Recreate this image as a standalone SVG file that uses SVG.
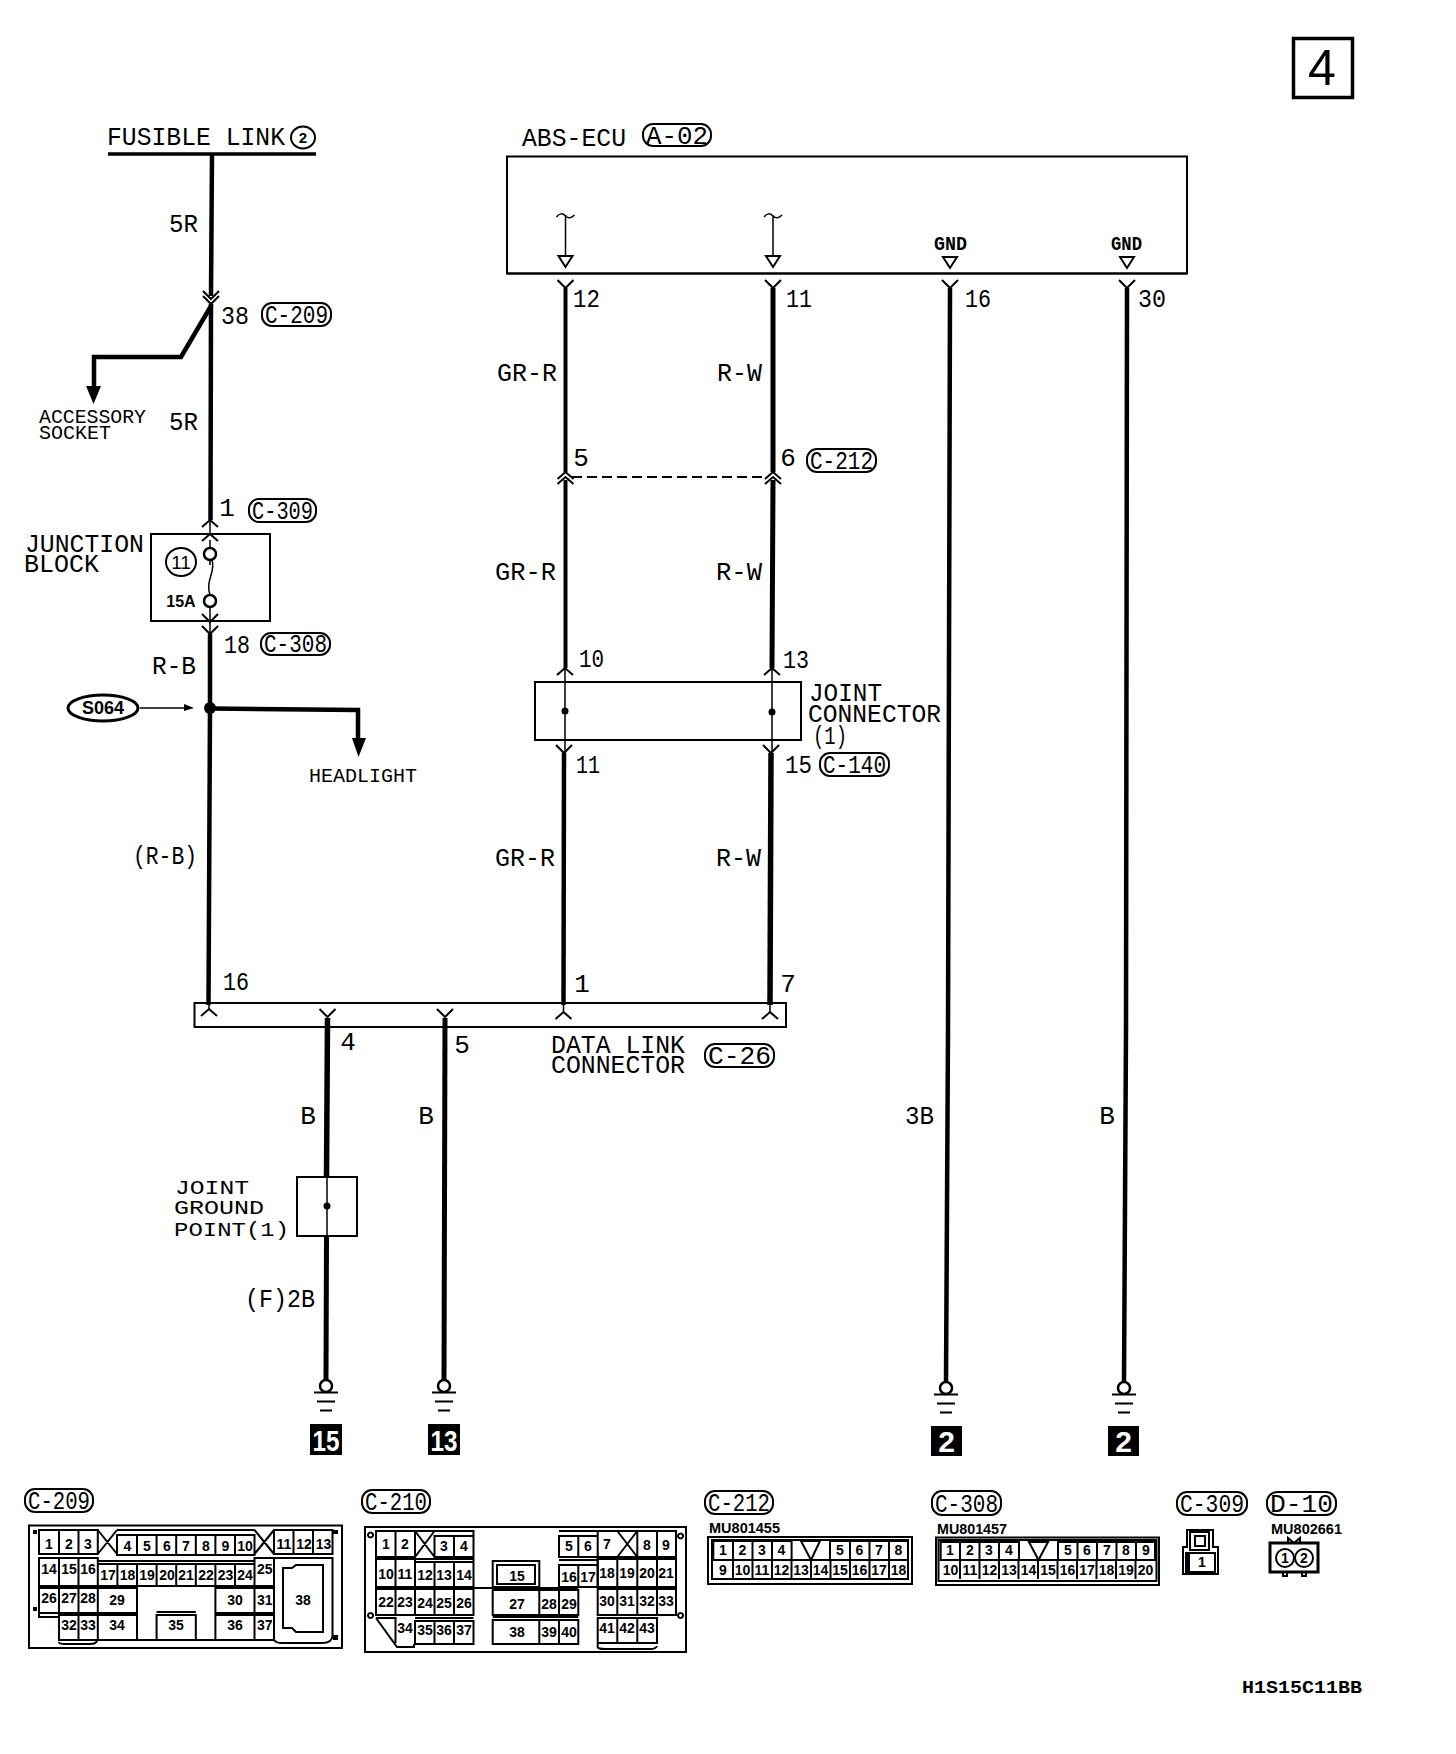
<svg xmlns="http://www.w3.org/2000/svg" xmlns:xlink="http://www.w3.org/1999/xlink" width="1456" height="1754" viewBox="0 0 1456 1754">
<style>
text{font-family:"Liberation Mono","DejaVu Sans Mono",monospace;fill:#000}
.l{font-size:26px}
.m{font-size:26px}
.s{font-size:20px}
.p{font-size:26px;text-anchor:middle}
.c{font-family:"Liberation Sans",Arial,sans-serif;font-weight:bold;font-size:14px;text-anchor:middle}
.mu{font-family:"Liberation Sans",Arial,sans-serif;font-weight:bold;font-size:14px}
.g{font-weight:bold;font-size:17px}
.w{font-family:"Liberation Sans",Arial,sans-serif;font-weight:bold;font-size:30px;fill:#fff;text-anchor:middle}
.box,.pill,.pin,.thin,.chev,.gnd{fill:none;stroke:#000}
.box{stroke-width:2}
.pill{stroke-width:2}
.pin{stroke-width:2}
.thin{stroke-width:1.5}
.chev{stroke-width:2}
.gnd{stroke-width:2}
.wire{fill:none;stroke:#000;stroke-width:4.5}
.wh{fill:#fff;stroke:#000;stroke-width:2.5}
.k{fill:#000;stroke:none}
</style>
<defs>
<path id="up" class="chev" d="M-8 7L0 0L8 7"/>
<path id="dn" class="chev" d="M-8 -8L0 0L8 -8"/>
<path id="tri" class="box" d="M-7 0H7L0 11Z"/>
<path id="tl" class="thin" d="M-9 2C-6 -2 -3 -2 0 1C3 4 6 3 9 0"/>
<g id="earth">
<circle class="wh" cx="0" cy="0" r="6"/>
<path class="gnd" d="M-12 6.500H12M-9 15.500H9M-6 24.500H6"/>
</g>
</defs>

<g id="connectors">
<path class="wire" d="M212 154L211 296M211 304L210.500 520"/>
<path class="wire" d="M211 306L181 357H94V388"/>
<path class="k" d="M86 386H101L93.500 404Z"/>
<path class="wire" d="M210 634V708L208.500 1005"/>
<path class="wire" d="M210 708.500L358 710V740"/>
<path class="k" d="M352 738H366L358.500 757Z"/>
<path class="thin" d="M210 520V534M210 540V548M210 560V565M210 595V634"/>
<path class="thin" d="M212 560C216 572 205 580 210 595"/>
<use xlink:href="#dn" x="211" y="304"/><use xlink:href="#dn" x="211" y="299"/>
<use xlink:href="#up" x="210" y="520"/><use xlink:href="#up" x="210" y="534"/>
<use xlink:href="#dn" x="210" y="622"/><use xlink:href="#dn" x="210" y="634"/>
<path class="thin" d="M140 708H186"/><path class="k" d="M184 704L194 708L184 711Z"/>

<path class="wire" d="M565.500 288V472M565.500 480V668" style="stroke-width:4"/>
<path class="wire" d="M773 288V472M773 480L772 668" style="stroke-width:5"/>
<path class="wire" d="M950 288L948 1030L946 1382" style="stroke-width:4.500"/>
<path class="wire" d="M1127 288L1126 1030L1124 1382" style="stroke-width:4.500"/>
<path class="thin" d="M565 668V753M772 668V753"/>
<path class="wire" d="M564 753L563.500 1005" style="stroke-width:4.500"/>
<path class="wire" d="M771 753L770 1005" style="stroke-width:5.500"/>
<path class="thin" d="M563.500 1004V1012M770 1004V1012M209 1004V1009"/>
<path class="box" d="M572 477H768" stroke-dasharray="10 5"/>
<use xlink:href="#dn" x="565.500" y="288"/><use xlink:href="#dn" x="773" y="288"/><use xlink:href="#dn" x="950" y="288"/><use xlink:href="#dn" x="1127" y="288"/>
<use xlink:href="#up" x="565.500" y="472"/><use xlink:href="#up" x="565.500" y="477"/><use xlink:href="#up" x="773" y="472"/><use xlink:href="#up" x="773" y="477"/>
<use xlink:href="#up" x="565" y="668"/><use xlink:href="#up" x="772" y="668"/>
<use xlink:href="#dn" x="564" y="753"/><use xlink:href="#dn" x="771" y="753"/>
<use xlink:href="#up" x="563.500" y="1012"/><use xlink:href="#up" x="770" y="1012"/><use xlink:href="#up" x="209" y="1009"/>
<use xlink:href="#dn" x="327.500" y="1017"/><use xlink:href="#dn" x="445" y="1017"/>
<path class="wire" d="M327.500 1018L326.500 1177" style="stroke-width:5.500"/>
<path class="thin" d="M327 1177V1236"/>
<path class="wire" d="M326.500 1236L326 1381" style="stroke-width:5"/>
<path class="wire" d="M445 1018L444 1381" style="stroke-width:5"/>
</g>

<g id="page-number"><rect x="1293.500" y="38.500" width="59" height="59" fill="none" stroke="#000" stroke-width="3.500"/><text x="1322" y="85" font-size="50" text-anchor="middle" style="font-family:'Liberation Sans',sans-serif">4</text></g>

<g id="fusible-link">
<text class="l" x="107" y="145" textLength="178" lengthAdjust="spacingAndGlyphs">FUSIBLE LINK</text>
<ellipse class="pill" cx="303" cy="137.500" rx="12" ry="11"/><text class="c" x="303" y="143" style="font-size:15px">2</text>
<path d="M108 154H316" stroke="#000" stroke-width="3.500"/>
</g>
<g id="wire-labels">
<text class="l" x="169" y="232" textLength="29" lengthAdjust="spacingAndGlyphs">5R</text>
<text class="l" x="169" y="430" textLength="29" lengthAdjust="spacingAndGlyphs">5R</text>
<text class="l" x="152" y="674" textLength="44" lengthAdjust="spacingAndGlyphs">R-B</text>
<text class="l" x="133" y="864" textLength="64" lengthAdjust="spacingAndGlyphs">(R-B)</text>
<text class="l" x="497" y="381" textLength="60" lengthAdjust="spacingAndGlyphs">GR-R</text>
<text class="l" x="717" y="381" textLength="45" lengthAdjust="spacingAndGlyphs">R-W</text>
<text class="l" x="495" y="580" textLength="61" lengthAdjust="spacingAndGlyphs">GR-R</text>
<text class="l" x="716" y="580" textLength="46" lengthAdjust="spacingAndGlyphs">R-W</text>
<text class="l" x="495" y="866" textLength="60" lengthAdjust="spacingAndGlyphs">GR-R</text>
<text class="l" x="716" y="866" textLength="45" lengthAdjust="spacingAndGlyphs">R-W</text>
<text class="p" x="308" y="1124">B</text>
<text class="p" x="426" y="1124">B</text>
<text class="l" x="245" y="1307" textLength="70" lengthAdjust="spacingAndGlyphs">(F)2B</text>
<text class="l" x="905" y="1124" textLength="29" lengthAdjust="spacingAndGlyphs">3B</text>
<text class="p" x="1107" y="1124">B</text>
</g>
<g id="pin-labels">
<text class="l" x="221" y="324" textLength="28" lengthAdjust="spacingAndGlyphs">38</text>
<text class="p" x="227" y="516">1</text>
<text class="l" x="224" y="653" textLength="26" lengthAdjust="spacingAndGlyphs">18</text>
<text class="l" x="223" y="990" textLength="26" lengthAdjust="spacingAndGlyphs">16</text>
<text class="p" x="348" y="1050">4</text>
<text class="p" x="462" y="1053">5</text>
<text class="l" x="573" y="307" textLength="27" lengthAdjust="spacingAndGlyphs">12</text>
<text class="l" x="786" y="307" textLength="26" lengthAdjust="spacingAndGlyphs">11</text>
<text class="l" x="965" y="307" textLength="26" lengthAdjust="spacingAndGlyphs">16</text>
<text class="l" x="1138" y="307" textLength="28" lengthAdjust="spacingAndGlyphs">30</text>
<text class="p" x="581" y="466">5</text>
<text class="p" x="788" y="466">6</text>
<text class="l" x="579" y="667" textLength="25" lengthAdjust="spacingAndGlyphs">10</text>
<text class="l" x="783" y="668" textLength="26" lengthAdjust="spacingAndGlyphs">13</text>
<text class="l" x="576" y="773" textLength="24" lengthAdjust="spacingAndGlyphs">11</text>
<text class="l" x="785" y="773" textLength="27" lengthAdjust="spacingAndGlyphs">15</text>
<text class="p" x="582" y="992">1</text>
<text class="p" x="788" y="992">7</text>
</g>

<g id="C-209-tag"><rect class="pill" x="262" y="303" width="69" height="23" rx="10"/><text class="m" x="265" y="323" textLength="63" lengthAdjust="spacingAndGlyphs">C-209</text></g>
<g id="C-309-tag"><rect class="pill" x="249" y="499" width="67" height="23" rx="10"/><text class="m" x="252" y="519" textLength="61" lengthAdjust="spacingAndGlyphs">C-309</text></g>
<g id="C-308-tag"><rect class="pill" x="261" y="633" width="69" height="22" rx="10"/><text class="m" x="264" y="652" textLength="63" lengthAdjust="spacingAndGlyphs">C-308</text></g>
<g id="A-02-tag"><rect class="pill" x="643" y="124" width="68" height="22" rx="10"/><text class="m" x="646" y="144" textLength="62" lengthAdjust="spacingAndGlyphs">A-02</text></g>
<g id="C-212-tag"><rect class="pill" x="807" y="449" width="69" height="23" rx="10"/><text class="m" x="810" y="469" textLength="63" lengthAdjust="spacingAndGlyphs">C-212</text></g>
<g id="C-140-tag"><rect class="pill" x="820" y="753" width="69" height="23" rx="10"/><text class="m" x="823" y="773" textLength="63" lengthAdjust="spacingAndGlyphs">C-140</text></g>
<g id="C-26-tag"><rect class="pill" x="705" y="1044" width="69" height="23" rx="10"/><text class="m" x="708" y="1064" textLength="63" lengthAdjust="spacingAndGlyphs">C-26</text></g>

<g id="accessory-socket"><text class="s" x="39" y="423" textLength="107" lengthAdjust="spacingAndGlyphs">ACCESSORY</text><text class="s" x="39" y="439" textLength="72" lengthAdjust="spacingAndGlyphs">SOCKET</text></g>
<g id="headlight"><text class="s" x="309" y="782" textLength="108" lengthAdjust="spacingAndGlyphs">HEADLIGHT</text></g>

<g id="junction-block">
<rect class="box" x="151" y="534" width="119" height="87"/>
<text class="l" x="25" y="552" textLength="119" lengthAdjust="spacingAndGlyphs">JUNCTION</text>
<text class="l" x="24" y="572" textLength="75" lengthAdjust="spacingAndGlyphs">BLOCK</text>
<ellipse class="pill" cx="181" cy="562" rx="15" ry="14"/><text class="c" x="181" y="569" style="font-size:19px;font-weight:normal">11</text>
<text class="c" x="181" y="607" style="font-size:16px">15A</text>
<circle class="wh" cx="210" cy="554" r="6"/><circle class="wh" cx="210" cy="601" r="6"/>
</g>
<g id="S064">
<ellipse cx="103" cy="708" rx="35" ry="13" fill="none" stroke="#000" stroke-width="3"/>
<text class="c" x="103" y="714" style="font-size:18px">S064</text>
<circle class="k" cx="210" cy="708" r="6"/>
</g>

<g id="abs-ecu">
<text class="l" x="522" y="146" textLength="104" lengthAdjust="spacingAndGlyphs">ABS-ECU</text>
<rect class="box" x="507" y="156.500" width="680" height="117"/>
<path class="box" d="M507 273.500H1187" stroke-width="3"/>
<use xlink:href="#tl" x="565.500" y="215"/><path class="thin" d="M565.500 215V256"/><use xlink:href="#tri" x="565.500" y="256"/>
<use xlink:href="#tl" x="773" y="215"/><path class="thin" d="M773 215V256"/><use xlink:href="#tri" x="773" y="256"/>
<text class="g" x="934" y="250" textLength="33" lengthAdjust="spacingAndGlyphs" style="font-size:20px">GND</text><use xlink:href="#tri" x="950" y="257"/>
<text class="g" x="1111" y="250" textLength="31" lengthAdjust="spacingAndGlyphs" style="font-size:20px">GND</text><use xlink:href="#tri" x="1127" y="257"/>
</g>

<g id="joint-connector">
<rect class="box" x="535" y="682" width="266" height="58"/>
<circle class="k" cx="565" cy="711" r="3.500"/><circle class="k" cx="772" cy="712" r="3.500"/>
<text class="l" x="809" y="701" textLength="73" lengthAdjust="spacingAndGlyphs">JOINT</text>
<text class="l" x="808" y="722" textLength="133" lengthAdjust="spacingAndGlyphs">CONNECTOR</text>
<text class="l" x="813" y="744" textLength="34" lengthAdjust="spacingAndGlyphs">(1)</text>
</g>

<g id="data-link-connector">
<rect class="box" x="194.500" y="1003" width="591.500" height="24"/>
<text class="l" x="551" y="1053" textLength="134" lengthAdjust="spacingAndGlyphs">DATA LINK</text>
<text class="l" x="551" y="1073" textLength="134" lengthAdjust="spacingAndGlyphs">CONNECTOR</text>
</g>

<g id="joint-ground-point">
<rect class="box" x="297" y="1177" width="60" height="59"/>
<circle class="k" cx="327" cy="1206" r="3.500"/>
<text class="s" x="175" y="1194" textLength="74" lengthAdjust="spacingAndGlyphs">JOINT</text>
<text class="s" x="174" y="1214" textLength="90" lengthAdjust="spacingAndGlyphs">GROUND</text>
<text class="s" x="174" y="1236" textLength="115" lengthAdjust="spacingAndGlyphs">POINT(1)</text>
</g>

<g id="ground-15"><use xlink:href="#earth" x="326" y="1386"/><rect class="k" x="310" y="1424" width="32" height="31"/><text class="w" x="326" y="1451" textLength="27" lengthAdjust="spacingAndGlyphs">15</text></g>
<g id="ground-13"><use xlink:href="#earth" x="444" y="1386"/><rect class="k" x="428" y="1424" width="32" height="31"/><text class="w" x="444" y="1451" textLength="27" lengthAdjust="spacingAndGlyphs">13</text></g>
<g id="ground-2a"><use xlink:href="#earth" x="946" y="1388"/><rect class="k" x="931" y="1426" width="31" height="30"/><text class="w" x="946.500" y="1452">2</text></g>
<g id="ground-2b"><use xlink:href="#earth" x="1124" y="1388"/><rect class="k" x="1108" y="1426" width="31" height="30"/><text class="w" x="1123.500" y="1452">2</text></g>

<g id="C-209">
<rect class="pill" x="25" y="1489" width="68" height="23" rx="10"/><text class="m" x="28" y="1509" textLength="62" lengthAdjust="spacingAndGlyphs">C-209</text>
<rect class="box" x="29" y="1525.500" width="313" height="122.500"/>
<path class="pin" d="M39 1530H97.800V1554H39ZM59 1530V1554M78.500 1530V1554M97.800 1530L117 1554M117 1530L97.800 1554M117 1530H254.500M117 1535H254.500V1555H117ZM137 1535V1555M156.600 1535V1555M176.200 1535V1555M195.800 1535V1555M215.400 1535V1555M235 1535V1555M254.500 1530L274 1554M274 1530L254.500 1554M274 1530H332.500V1554H274ZM293.500 1530V1554M313 1530V1554"/>
<path class="pin" d="M39 1558H97.800V1586H39ZM59 1558V1586M78.500 1558V1586M97.800 1561H254.500M97.800 1564H254.500V1586H97.800ZM117.400 1564V1586M137 1564V1586M156.600 1564V1586M176.200 1564V1586M195.800 1564V1586M215.400 1564V1586M235 1564V1586M254.500 1558H274V1586H254.500Z"/>
<path class="pin" d="M39 1588H97.800V1613H39ZM59 1588V1613M78.500 1588V1613M97.800 1588H137V1613H97.800ZM215.400 1588H254.500V1613H215.400ZM254.500 1588H274V1613H254.500ZM97.800 1586H274"/>
<path class="pin" d="M59 1615H97.800V1640H59ZM78.500 1615V1640M97.800 1615H137V1640H97.800ZM156.600 1615H195.800V1640H156.600ZM156.600 1612H195.800M215.400 1615H254.500V1640H215.400ZM254.500 1615H274V1640H254.500ZM59 1642Q59 1644 65 1644H90Q97 1644 97 1640M137 1640H156M196 1640H215M39 1613V1617H59M274 1558V1640Q276 1643 282 1643H322Q332 1643 332.500 1636V1558H274"/>
<path class="pin" d="M283 1568H292L296 1565H323V1632H296L292 1628H283Z"/>
<path class="k" d="M33 1530H37V1534H33ZM333 1530H338V1534H333ZM33 1607H37V1611H33ZM333 1635H338V1640H333Z"/>
<text class="c"><tspan x="49" y="1549">1</tspan><tspan x="69" y="1549">2</tspan><tspan x="88" y="1549">3</tspan><tspan x="127.500" y="1551">4</tspan><tspan x="147" y="1551">5</tspan><tspan x="167" y="1551">6</tspan><tspan x="186" y="1551">7</tspan><tspan x="206" y="1551">8</tspan><tspan x="225.500" y="1551">9</tspan><tspan x="245" y="1551">10</tspan><tspan x="284" y="1549">11</tspan><tspan x="304" y="1549">12</tspan><tspan x="323.500" y="1549">13</tspan></text>
<text class="c"><tspan x="49" y="1574">14</tspan><tspan x="69" y="1574">15</tspan><tspan x="88" y="1574">16</tspan><tspan x="108" y="1580">17</tspan><tspan x="127.500" y="1580">18</tspan><tspan x="147" y="1580">19</tspan><tspan x="167" y="1580">20</tspan><tspan x="186" y="1580">21</tspan><tspan x="206" y="1580">22</tspan><tspan x="225.500" y="1580">23</tspan><tspan x="245" y="1580">24</tspan><tspan x="264.700" y="1574">25</tspan></text>
<text class="c"><tspan x="49" y="1603">26</tspan><tspan x="69" y="1603">27</tspan><tspan x="88" y="1603">28</tspan><tspan x="117" y="1605">29</tspan><tspan x="235" y="1605">30</tspan><tspan x="264.700" y="1605">31</tspan></text>
<text class="c"><tspan x="69" y="1630">32</tspan><tspan x="88" y="1630">33</tspan><tspan x="117" y="1630">34</tspan><tspan x="176" y="1630">35</tspan><tspan x="235" y="1630">36</tspan><tspan x="264.700" y="1630">37</tspan><tspan x="303" y="1605">38</tspan></text>
</g>

<g id="C-210">
<rect class="pill" x="362" y="1490" width="68" height="23" rx="10"/><text class="m" x="365" y="1510" textLength="62" lengthAdjust="spacingAndGlyphs">C-210</text>
<rect class="box" x="365" y="1527" width="321" height="125"/>
<path class="pin" d="M376 1531H415V1557H376ZM395.500 1531V1557M415 1531L434.500 1557M434.500 1531L415 1557M415 1531H473.500V1557M434.500 1536H473.500V1557H434.500ZM454 1536V1557"/>
<path class="pin" d="M376 1559H473.500V1587H376ZM395.500 1559V1587M415 1559V1587M434.500 1562V1587M454 1562V1587M415 1562H473.500"/>
<path class="pin" d="M376 1589H473.500V1615H376ZM395.500 1589V1615M415 1589V1615M434.500 1589V1615M454 1589V1615M376 1618H395.500V1619M415 1618H473.500"/>
<path class="pin" d="M395.500 1618V1643M415 1621H473.500V1644H415ZM434.500 1621V1644M454 1621V1644M376 1618L397 1647H414V1644"/>
<path class="pin" d="M492.700 1561H539.300V1587H492.700ZM497 1565H535V1584H497ZM415 1588H578.300M492.700 1590H539.300V1615H492.700ZM492.700 1620H539.300V1644H492.700ZM539.300 1590H578.300V1615H539.300ZM559 1590V1615M539.300 1620H578.300V1644H539.300ZM559 1620V1644M492.700 1617H578.300"/>
<path class="pin" d="M559 1536H597.700V1557H559ZM578.300 1536V1557M559 1531H676V1557H597.700M559 1560H597.700M559 1565H597.700V1587H559ZM578.300 1565V1587M597.700 1531V1587M617.300 1531L637.300 1557M637.300 1531L617.300 1557M637.300 1531V1557M657 1531V1557"/>
<path class="pin" d="M597.700 1559H676V1587H597.700ZM617.300 1559V1587M637.300 1559V1587M657 1559V1587M597.700 1589H676V1615H597.700ZM617.300 1589V1615M637.300 1589V1615M657 1589V1615M597.700 1618H657V1643H597.700ZM617.300 1618V1643M637.300 1618V1643M597.700 1643V1647Q598 1649 605 1649H650Q656 1649 657 1646"/>
<path class="pin" d="M370.500 1532.500a2.500 2.500 0 1 0 .1 0M680.500 1533.500a2.500 2.500 0 1 0 .1 0M370.500 1613a2.500 2.500 0 1 0 .1 0M680.500 1613a2.500 2.500 0 1 0 .1 0"/>
<text class="c"><tspan x="386" y="1549">1</tspan><tspan x="405" y="1549">2</tspan><tspan x="444" y="1551">3</tspan><tspan x="464" y="1551">4</tspan><tspan x="569" y="1551">5</tspan><tspan x="588" y="1551">6</tspan><tspan x="607" y="1549">7</tspan><tspan x="647" y="1550">8</tspan><tspan x="666" y="1550">9</tspan></text>
<text class="c"><tspan x="386" y="1579">10</tspan><tspan x="405" y="1579">11</tspan><tspan x="425" y="1580">12</tspan><tspan x="444" y="1580">13</tspan><tspan x="464" y="1580">14</tspan><tspan x="517" y="1581">15</tspan><tspan x="569" y="1582">16</tspan><tspan x="588" y="1582">17</tspan><tspan x="607" y="1578">18</tspan><tspan x="627" y="1578">19</tspan><tspan x="647" y="1578">20</tspan><tspan x="666" y="1578">21</tspan></text>
<text class="c"><tspan x="386" y="1607">22</tspan><tspan x="405" y="1607">23</tspan><tspan x="425" y="1608">24</tspan><tspan x="444" y="1608">25</tspan><tspan x="464" y="1608">26</tspan><tspan x="517" y="1609">27</tspan><tspan x="549" y="1609">28</tspan><tspan x="569" y="1609">29</tspan><tspan x="607" y="1606">30</tspan><tspan x="627" y="1606">31</tspan><tspan x="647" y="1606">32</tspan><tspan x="666" y="1606">33</tspan></text>
<text class="c"><tspan x="405" y="1633">34</tspan><tspan x="425" y="1635">35</tspan><tspan x="444" y="1635">36</tspan><tspan x="464" y="1635">37</tspan><tspan x="517" y="1637">38</tspan><tspan x="549" y="1637">39</tspan><tspan x="569" y="1637">40</tspan><tspan x="607" y="1633">41</tspan><tspan x="627" y="1633">42</tspan><tspan x="647" y="1633">43</tspan></text>
</g>

<g id="C-212">
<rect class="pill" x="705" y="1491" width="68" height="23" rx="10"/><text class="m" x="708" y="1511" textLength="62" lengthAdjust="spacingAndGlyphs">C-212</text>
<text class="mu" x="709" y="1533" textLength="71" lengthAdjust="spacingAndGlyphs">MU801455</text>
<rect class="box" x="708" y="1537" width="204" height="47"/>
<rect class="pin" x="712" y="1540" width="196" height="39"/>
<path class="pin" d="M713.300 1541H791.600V1560H713.300ZM733 1541V1560M752.500 1541V1560M772 1541V1560M830 1541H908V1560H830ZM850 1541V1560M869.500 1541V1560M889 1541V1560M713.300 1560H908M733 1560V1579M752.500 1560V1579M772 1560V1579M791.500 1560V1579M811 1560V1579M830.500 1560V1579M850 1560V1579M869.500 1560V1579M889 1560V1579"/>
<path class="pin" d="M801 1541H820L811 1560Z"/>
<text class="c"><tspan x="723" y="1555">1</tspan><tspan x="742.500" y="1555">2</tspan><tspan x="762" y="1555">3</tspan><tspan x="781.500" y="1555">4</tspan><tspan x="840" y="1555">5</tspan><tspan x="859.500" y="1555">6</tspan><tspan x="879" y="1555">7</tspan><tspan x="898.500" y="1555">8</tspan></text>
<text class="c"><tspan x="723" y="1575">9</tspan><tspan x="742.500" y="1575">10</tspan><tspan x="762" y="1575">11</tspan><tspan x="781.500" y="1575">12</tspan><tspan x="801" y="1575">13</tspan><tspan x="820.500" y="1575">14</tspan><tspan x="840" y="1575">15</tspan><tspan x="859.500" y="1575">16</tspan><tspan x="879" y="1575">17</tspan><tspan x="898.500" y="1575">18</tspan></text>
</g>

<g id="C-308">
<rect class="pill" x="932" y="1491" width="69" height="24" rx="10"/><text class="m" x="935" y="1512" textLength="63" lengthAdjust="spacingAndGlyphs">C-308</text>
<text class="mu" x="937" y="1534" textLength="70" lengthAdjust="spacingAndGlyphs">MU801457</text>
<rect class="box" x="936" y="1537.500" width="223" height="47.500"/>
<rect class="pin" x="938.500" y="1540" width="218" height="41"/>
<path class="pin" d="M940.700 1542H1019V1560H940.700ZM960 1542V1560M979.500 1542V1560M999 1542V1560M1058 1542H1155V1560H1058ZM1077.500 1542V1560M1097 1542V1560M1116.500 1542V1560M1136 1542V1560M940.700 1560H1155M960 1560V1579M979.500 1560V1579M999 1560V1579M1018.500 1560V1579M1038 1560V1579M1057.500 1560V1579M1077 1560V1579M1096.500 1560V1579M1116 1560V1579M1135.500 1560V1579"/>
<path class="pin" d="M1029 1542H1048L1038.500 1560Z"/>
<text class="c"><tspan x="950" y="1555">1</tspan><tspan x="970" y="1555">2</tspan><tspan x="989" y="1555">3</tspan><tspan x="1009" y="1555">4</tspan><tspan x="1068" y="1555">5</tspan><tspan x="1087" y="1555">6</tspan><tspan x="1107" y="1555">7</tspan><tspan x="1126" y="1555">8</tspan><tspan x="1146" y="1555">9</tspan></text>
<text class="c"><tspan x="950.500" y="1575">10</tspan><tspan x="970" y="1575">11</tspan><tspan x="989.500" y="1575">12</tspan><tspan x="1009" y="1575">13</tspan><tspan x="1028.500" y="1575">14</tspan><tspan x="1048" y="1575">15</tspan><tspan x="1067.500" y="1575">16</tspan><tspan x="1087" y="1575">17</tspan><tspan x="1106.500" y="1575">18</tspan><tspan x="1126" y="1575">19</tspan><tspan x="1145.500" y="1575">20</tspan></text>
</g>

<g id="C-309">
<rect class="pill" x="1177" y="1492" width="70" height="23" rx="10"/><text class="m" x="1180" y="1512" textLength="64" lengthAdjust="spacingAndGlyphs">C-309</text>
<path class="pin" d="M1187 1530H1213V1547H1218V1574H1183V1547H1187Z"/>
<rect class="pin" x="1190" y="1532" width="19" height="18"/>
<rect class="pin" x="1195" y="1536" width="10" height="10"/>
<rect class="pin" x="1186" y="1553" width="29" height="19"/>
<rect class="k" x="1186" y="1553" width="4" height="19"/>
<text class="c" x="1202" y="1567">1</text>
</g>

<g id="D-10">
<rect class="pill" x="1267" y="1492" width="69" height="23" rx="10"/><text class="m" x="1270" y="1512" textLength="63" lengthAdjust="spacingAndGlyphs">D-10</text>
<text class="mu" x="1271" y="1534" textLength="71" lengthAdjust="spacingAndGlyphs">MU802661</text>
<path class="pin" d="M1288 1543V1538L1294 1543L1300 1538V1543"/>
<rect x="1270" y="1543" width="48" height="29" fill="none" stroke="#000" stroke-width="3"/>
<circle class="box" cx="1285" cy="1558" r="9"/><circle class="box" cx="1304" cy="1558" r="9"/>
<path class="pin" d="M1283 1572V1576H1287V1572M1302 1572V1576H1306V1572"/>
<text class="c" x="1285" y="1563">1</text><text class="c" x="1304" y="1563">2</text>
</g>

<text x="1242" y="1693" font-weight="bold" font-size="18" textLength="120" lengthAdjust="spacingAndGlyphs">H1S15C11BB</text>
</svg>
